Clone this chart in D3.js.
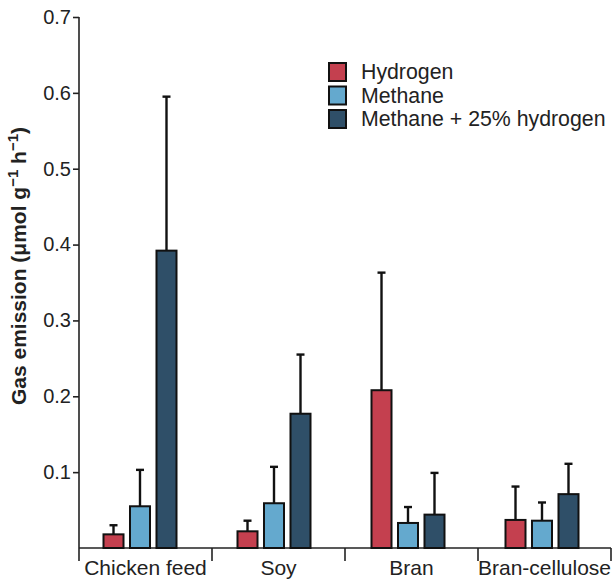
<!DOCTYPE html>
<html>
<head>
<meta charset="utf-8">
<script src="https://cdnjs.cloudflare.com/ajax/libs/d3/7.8.5/d3.min.js"></script>
<style>
  body { margin: 0; background: #fff; }
  svg { display: block; font-family: "Liberation Sans", Arial, sans-serif; }
</style>
</head>
<body>
<div id="chart"></div>
<script>
const categories = ['Chicken feed', 'Soy', 'Bran', 'Bran-cellulose'];
const seriesNames = ['Hydrogen', 'Methane', 'Methane + 25% hydrogen'];
const seriesColors = ['#C4404F', '#64A9CE', '#2F4F68'];
// means per series, in category order
const hydrogen = [0.018, 0.022, 0.208, 0.037];
const methane = [0.055, 0.059, 0.033, 0.036];
const methaneH2 = [0.392, 0.177, 0.044, 0.071];
// upper error bar ends
const hydrogenErr = [0.030, 0.036, 0.363, 0.081];
const methaneErr = [0.103, 0.107, 0.054, 0.060];
const methaneH2Err = [0.595, 0.255, 0.099, 0.111];
const yTicks = [0.1, 0.2, 0.3, 0.4, 0.5, 0.6, 0.7];

const width = 612, height = 582;
const plotLeft = 79, plotRight = 611, plotTop = 17, plotBottom = 548;

const svg = d3.select('#chart').append('svg')
    .attr('width', width)
    .attr('height', height);

const y = d3.scaleLinear().domain([0, 0.7]).range([plotBottom, plotTop]);
// axis bands (labels and separators)
const xAxisScale = d3.scaleBand().domain(categories).range([plotLeft, plotRight]);
// bar groups sit a little left of the axis bands
const x0 = d3.scaleBand().domain(categories).range([73, 609]);
const x1 = d3.scaleBand().domain(seriesNames).range([-36.5, 36.5]).paddingInner(0.245);

const series = [
    { name: seriesNames[0], values: hydrogen, err: hydrogenErr },
    { name: seriesNames[1], values: methane, err: methaneErr },
    { name: seriesNames[2], values: methaneH2, err: methaneH2Err }
];
const color = d3.scaleOrdinal().domain(seriesNames).range(seriesColors);

const bars = [];
series.forEach(s => {
    categories.forEach((c, i) => {
        bars.push({ cat: c, name: s.name, value: s.values[i], err: s.err[i] });
    });
});

// y axis
const yAxis = svg.append('g')
    .attr('transform', 'translate(' + plotLeft + ',0)')
    .call(d3.axisLeft(y).tickValues(yTicks).tickSize(6).tickPadding(2).tickSizeOuter(0)
        .tickFormat(d3.format('.1f')));
yAxis.select('.domain').remove();
yAxis.selectAll('line').attr('stroke', '#222').attr('stroke-width', 1.6);
yAxis.selectAll('text')
    .attr('font-size', '20px')
    .attr('fill', '#222')
    .attr('font-family', '"Liberation Sans", Arial, sans-serif');
svg.append('line')
    .attr('x1', plotLeft).attr('x2', plotLeft)
    .attr('y1', plotTop).attr('y2', plotBottom + 13)
    .attr('stroke', '#222').attr('stroke-width', 1.6);

// x axis baseline and separators
svg.append('line')
    .attr('x1', plotLeft).attr('x2', plotRight)
    .attr('y1', plotBottom).attr('y2', plotBottom)
    .attr('stroke', '#222').attr('stroke-width', 1.6);
const seps = categories.slice(1).map(c => xAxisScale(c)).concat([plotRight]);
svg.selectAll('.sep')
    .data(seps)
  .enter().append('line')
    .attr('class', 'sep')
    .attr('x1', d => d).attr('x2', d => d)
    .attr('y1', plotBottom).attr('y2', plotBottom + 13)
    .attr('stroke', '#222').attr('stroke-width', 1.6);
svg.selectAll('.cat-label')
    .data(categories)
  .enter().append('text')
    .attr('class', 'cat-label')
    .attr('x', d => xAxisScale(d) + xAxisScale.bandwidth() / 2)
    .attr('y', plotBottom + 27)
    .attr('text-anchor', 'middle')
    .attr('font-size', '21px')
    .attr('fill', '#222')
    .text(d => d);

// y title
const title = svg.append('text')
    .attr('transform', 'translate(26,' + 266 + ') rotate(-90)')
    .attr('text-anchor', 'middle')
    .attr('font-size', '21px')
    .attr('font-weight', 'bold')
    .attr('fill', '#222');
title.append('tspan').text('Gas emission (μmol g');
title.append('tspan').attr('dy', -8).attr('font-size', '15px').text('−1');
title.append('tspan').attr('dy', 8).text(' h');
title.append('tspan').attr('dy', -8).attr('font-size', '15px').text('−1');
title.append('tspan').attr('dy', 8).text(')');

// error bars
const errG = svg.selectAll('.err')
    .data(bars)
  .enter().append('g')
    .attr('class', 'err')
    .attr('transform', d => 'translate(' + (x0(d.cat) + x0.bandwidth() / 2 + x1(d.name) + x1.bandwidth() / 2) + ',0)');
errG.append('line')
    .attr('x1', 0).attr('x2', 0)
    .attr('y1', d => y(d.value)).attr('y2', d => y(d.err))
    .attr('stroke', '#111').attr('stroke-width', 2.4);
errG.append('line')
    .attr('x1', -4).attr('x2', 4)
    .attr('y1', d => y(d.err)).attr('y2', d => y(d.err))
    .attr('stroke', '#111').attr('stroke-width', 2.4);

// bars
svg.selectAll('.bar')
    .data(bars)
  .enter().append('rect')
    .attr('class', 'bar')
    .attr('x', d => x0(d.cat) + x0.bandwidth() / 2 + x1(d.name))
    .attr('y', d => y(d.value))
    .attr('width', x1.bandwidth())
    .attr('height', d => plotBottom - y(d.value))
    .attr('fill', d => color(d.name))
    .attr('stroke', '#111')
    .attr('stroke-width', 2);

// legend
const legend = svg.selectAll('.legend')
    .data(seriesNames)
  .enter().append('g')
    .attr('class', 'legend')
    .attr('transform', (d, i) => 'translate(329,' + (72 + i * 23.5) + ')');
legend.append('rect')
    .attr('x', 0).attr('y', -9)
    .attr('width', 17).attr('height', 18)
    .attr('fill', d => color(d))
    .attr('stroke', '#111')
    .attr('stroke-width', 2);
legend.append('text')
    .attr('x', 32).attr('y', 7)
    .attr('font-size', '21.3px')
    .attr('fill', '#222')
    .text(d => d);
</script>
</body>
</html>
